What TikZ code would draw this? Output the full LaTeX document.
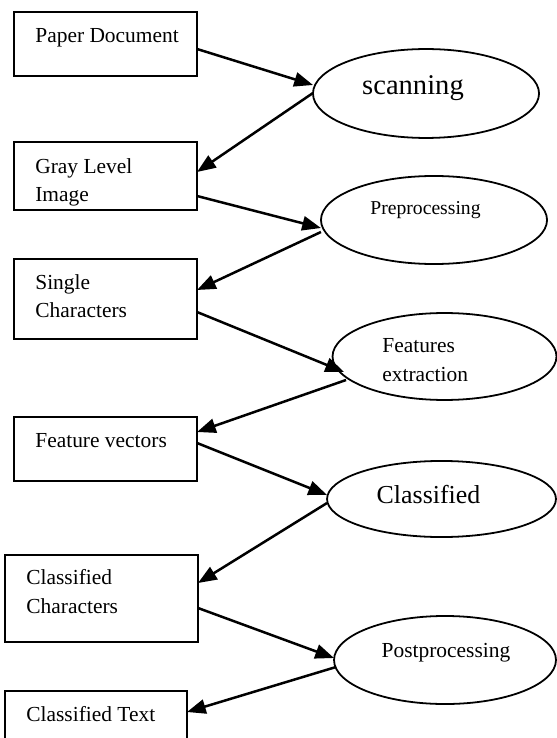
\documentclass[tikz,border=0pt]{standalone}
\usepackage{fontspec}
\setmainfont{Liberation Serif}
\usetikzlibrary{arrows.meta,shapes.geometric}

\begin{document}
\begin{tikzpicture}[x=0.56pt,y=-0.56pt]
\clip (0,0) rectangle (557,738);
% boxes on the left
\begin{scope}[every node/.style={rectangle,draw,line width=1.1pt,inner sep=0pt,outer sep=0pt,minimum width=102.5pt}]
    \node[minimum height=35.8pt] (paper) at (105.5,44) {};
    \node[minimum height=38.1pt] (gray) at (105.5,176) {};
    \node[minimum height=44.8pt] (single) at (105.5,299) {};
    \node[minimum height=35.8pt] (fvec) at (105.5,449) {};
    \node[minimum width=108.1pt,minimum height=48.7pt] (cchar) at (101.5,598.5) {};
    \node[minimum width=101.9pt,minimum height=38.6pt] (ctext) at (96,725.5) {};
\end{scope}

% processing steps on the right
\begin{scope}[every node/.style={ellipse,draw,line width=1pt,inner sep=0pt,outer sep=0pt}]
    \node[minimum width=126.6pt,minimum height=49.8pt] (scan) at (426,93.5) {};
    \node[minimum width=126.6pt,minimum height=49.3pt] (pre) at (434,220) {};
    \node[minimum width=125.4pt,minimum height=48.7pt] (feat) at (444.5,356.5) {};
    \node[minimum width=128.2pt,minimum height=42.6pt] (class) at (441.5,499) {};
    \node[minimum width=124.3pt,minimum height=49.3pt] (post) at (445,660) {};
\end{scope}

% texts (two-line ones sit on the baseline of their last line)
\begin{scope}[every node/.style={inner sep=0pt,anchor=base west,align=left,font=\fontsize{12}{16}\selectfont}]
    \node (paperTxt) at (35,43) {Paper Document};
    \node (grayTxt) at (35,202) {Gray Level\\Image};
    \node (singleTxt) at (35,318) {Single\\Characters};
    \node (fvecTxt) at (35,447) {Feature vectors};
    \node (ccharTxt) at (26,613) {Classified\\Characters};
    \node (ctextTxt) at (26,721) {Classified Text};
    \node (featTxt) at (382,381) {Features\\extraction};
    \node[anchor=base,font=\fontsize{16}{19}\selectfont] (scanTxt) at (413,95) {scanning};
    \node[anchor=base,font=\fontsize{11}{14}\selectfont] (preTxt) at (425.5,215) {Preprocessing};
    \node[anchor=base,font=\fontsize{14.5}{17}\selectfont] (classTxt) at (428.5,503) {Classified};
    \node[anchor=base] (postTxt) at (446,657) {Postprocessing};
\end{scope}

\begin{scope}[>={Triangle[length=10.5pt,width=8pt]},
              every edge/.style={draw,->,line width=1.4pt}]
    \path ([shift={(0,5)}]paper.east) edge ([shift={(0,-8.5)}]scan.west);
    \path ([shift={(0,-0.5)}]scan.west) edge ([shift={(0,-4)}]gray.east);
    \path ([shift={(0,20)}]gray.east) edge ([shift={(0,8)}]pre.west);
    \path ([shift={(0,12)}]pre.west) edge ([shift={(0,-9)}]single.east);
    \path ([shift={(0,13)}]single.east) edge ([shift={(11.5,15.5)}]feat.west);
    \path ([shift={(13.5,23.5)}]feat.west) edge ([shift={(0,-17)}]fvec.east);
    \path ([shift={(0,-6)}]fvec.east) edge ([shift={(0,-4)}]class.west);
    \path ([shift={(0,4)}]class.west) edge ([shift={(0,-15.5)}]cchar.east);
    \path ([shift={(0,9.5)}]cchar.east) edge ([shift={(0,-2)}]post.west);
    \path ([shift={(2,7)}]post.west) edge ([shift={(0,-13.5)}]ctext.east);
\end{scope}
\end{tikzpicture}
\end{document}
